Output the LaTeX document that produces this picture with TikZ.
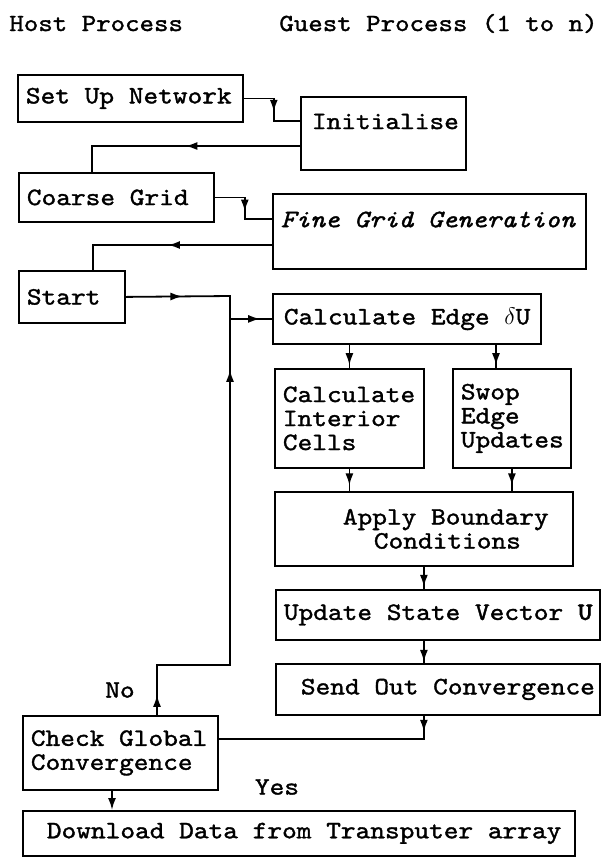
\documentclass[tikz,border=0pt]{standalone}
\usepackage{fontspec}
\setmainfont{lmmono10-regular.otf}[
    ItalicFont=lmmono10-italic.otf,
    BoldFont=lmmonolt10-bold.otf,
    FakeStretch=1.12, FakeBold=1.4,
    WordSpace={1,0,0}, HyphenChar=None]
\usetikzlibrary{arrows.meta,decorations.markings}

\begin{document}
\begin{tikzpicture}[
        x=0.5pt, y=-0.5pt, % pixel grid, y runs down
        >={Latex[length=6pt,width=4pt]},
        every node/.style={font=\fontsize{12.5}{12}\selectfont},
        box/.style={draw, line width=0.9pt, anchor=north west, align=flush left, inner xsep=4pt, inner ysep=0pt,
            execute at begin node={\spaceskip=0pt\xspaceskip=0pt}}, % process boxes, full typewriter spaces
        lbl/.style={inner sep=0pt},
        head/.style={inner sep=0pt, anchor=base west, font=\fontsize{12.3}{12}\selectfont},
        conn/.style={line width=0.9pt},
        midarrow/.style={postaction={decorate, decoration={markings, mark=at position #1 with {\arrow{>}}}}},
    ]
    \useasboundingbox (0,0) rectangle (601,859);

    % headings
    \node[head] (host) at (9,31) {Host Process};
    \node[head] (guest) at (279,31) {Guest Process (1 to n)};

    % host and guest boxes
    \node[box, text width=104.5pt, minimum height=23.5pt] (net) at (17,74) {Set Up Network};
    \node[box, text width=74.5pt, minimum height=36.5pt] (init) at (300,96) {\hspace*{1.5pt}Initialise\\\mbox{}};
    \node[box, text width=89.5pt, minimum height=24.5pt] (coarse) at (18,172) {Coarse Grid};
    \node[box, text width=148.5pt, minimum height=37.5pt] (fine) at (272,193) {\itshape Fine Grid Generation\\\mbox{}};
    \node[box, text width=45pt, minimum height=26pt] (start) at (18,270) {Start};
    \node[box, text width=126pt, minimum height=25pt] (edge) at (272,293) {\mbox{\hspace*{1.5pt}Calculate Edge $\delta$U}};
    \node[box, text width=66.5pt, minimum height=49.5pt] (interior) at (274,368) {Calculate\\Interior\\Cells};
    \node[box, text width=51pt, minimum height=49.5pt] (swop) at (452,368) {Swop\\Edge\\Updates};
    \node[box, text width=141pt, minimum height=37pt] (apply) at (274,491) {\hspace*{30pt}Apply Boundary\\\hspace*{45.5pt}Conditions};
    \node[box, text width=154pt, minimum height=25pt] (update) at (275,589) {\mbox{Update State Vector \textbf{U}}};
    \node[box, text width=154pt, minimum height=25.5pt] (send) at (275,663) {\mbox{\hspace*{8.5pt}Send Out Convergence}};
    \node[box, text width=89.5pt, minimum height=37pt] (check) at (22,715) {Check Global\\Convergence};
    \node[box, text width=268pt, minimum height=22.5pt] (download) at (22,810) {\hspace*{8pt}Download Data from Transputer array};

    % set up and grid hand-over
    \draw[conn, midarrow=0.55] (net.east) -- ++(30,0) |- ([yshift=-12.5pt]init.north west);
    \draw[conn, midarrow=0.49] ([yshift=-25pt]init.north west) -| ([xshift=37pt]coarse.north west);
    \draw[conn, midarrow=0.56] (coarse.east) -- ++(30,0) |- ([yshift=-13pt]fine.north west);
    \draw[conn, midarrow=0.51] ([yshift=-26pt]fine.north west) -| ([xshift=37.5pt]start.north west);

    % main loop
    \coordinate (jn) at (230,296);
    \draw[conn, midarrow=0.335, midarrow=0.93] (start.east) -- (jn) |- (edge.west);
    \draw[conn, midarrow=0.041, midarrow=0.85] ([xshift=67.5pt]check.north west) -- ++(0,-50) -| (jn);
    \node[lbl] (no) at (120,690) {No};

    \coordinate (s1) at ([xshift=22pt]swop.north west);
    \draw[conn, midarrow=0.88] (interior.north |- edge.south) -- (interior.north);
    \draw[conn, midarrow=0.88] (s1 |- edge.south) -- (s1);
    \draw[conn, midarrow=0.75] (interior.south) -- (interior.south |- apply.north);
    \draw[conn, midarrow=0.75] (swop.south) -- (swop.south |- apply.north);
    \draw[conn, midarrow=0.9] (apply.south) -- (apply.south |- update.north);
    \draw[conn, midarrow=0.95] (apply.south |- update.south) -- (apply.south |- send.north);
    \draw[conn, midarrow=0.07] (apply.south |- send.south) |- ([yshift=7pt]check.east);

    % finish
    \coordinate (c1) at ([xshift=45pt]check.south west);
    \draw[conn, ->] (c1) -- (c1 |- download.north);
    \node[lbl] (yes) at (277,787) {Yes};
\end{tikzpicture}
\end{document}
